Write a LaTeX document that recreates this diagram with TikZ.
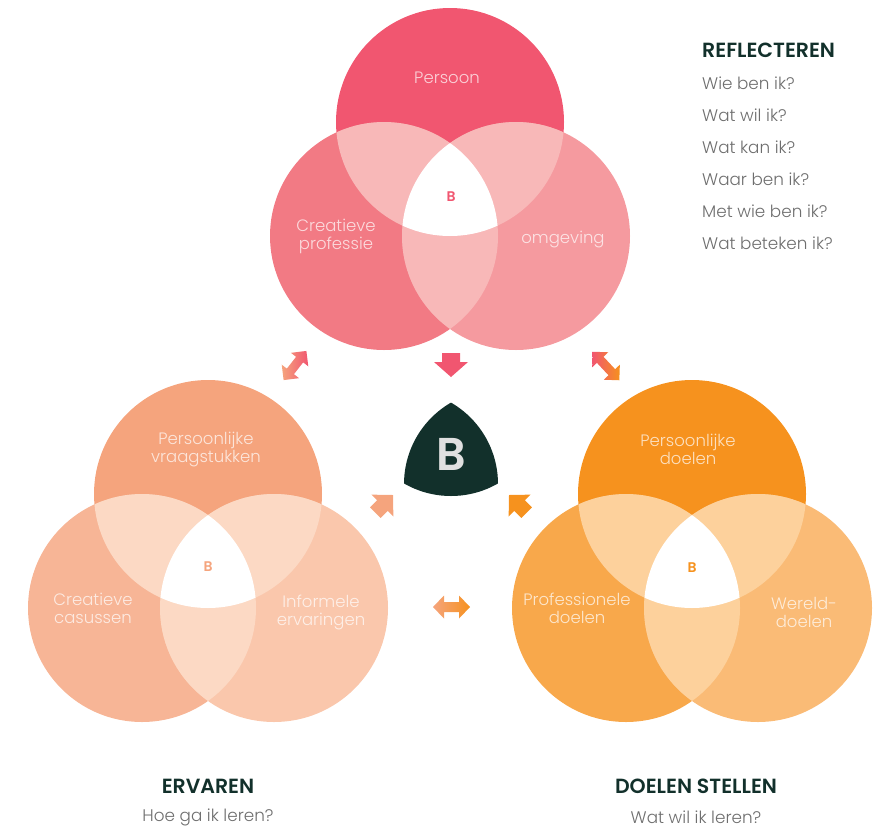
\documentclass[tikz,border=0pt]{standalone}
\usepackage{fontspec}
\setmainfont{Poppins}[UprightFont=* Light, BoldFont=* SemiBold]
\usetikzlibrary{calc}
\definecolor{pkT}{HTML}{F15670}
\definecolor{pkL}{HTML}{F27A84}
\definecolor{pkR}{HTML}{F59A9F}
\definecolor{pkO}{HTML}{F8B8B8}
\definecolor{smT}{HTML}{F5A47D}
\definecolor{smL}{HTML}{F7B596}
\definecolor{smR}{HTML}{FAC7AC}
\definecolor{smO}{HTML}{FCD9C4}
\definecolor{orT}{HTML}{F6921E}
\definecolor{orL}{HTML}{F8A84B}
\definecolor{orR}{HTML}{FABB76}
\definecolor{orO}{HTML}{FDD19C}
\definecolor{darkg}{HTML}{12302B}
\definecolor{greyt}{HTML}{6E6E6E}
\newcommand{\myVenn}[6]{%
  \coordinate (vT) at (#1,#2);
  \coordinate (vL) at ({#1-66},{#2+114});
  \coordinate (vR) at ({#1+66},{#2+114});
  \fill[#3] (vT) circle[radius=114pt];
  \fill[#4] (vL) circle[radius=114pt];
  \fill[#5] (vR) circle[radius=114pt];
  \begin{scope}\clip (vT) circle[radius=114pt];
    \fill[#6] (vL) circle[radius=114pt];
    \fill[#6] (vR) circle[radius=114pt];
  \end{scope}
  \begin{scope}\clip (vL) circle[radius=114pt];
    \fill[#6] (vR) circle[radius=114pt];
  \end{scope}
  \begin{scope}\clip (vT) circle[radius=114pt];
    \clip (vL) circle[radius=114pt];
    \fill[white] (vR) circle[radius=114pt];
  \end{scope}}
\newcommand{\dblArrow}[5]{% length, head length, head width, shaft width, shade opts
  \shade[#5] ({-#1/2},0) -- ({-#1/2+#2},{#3/2}) -- ({-#1/2+#2},{#4/2}) -- ({#1/2-#2},{#4/2})
    -- ({#1/2-#2},{#3/2}) -- ({#1/2},0) -- ({#1/2-#2},{-#3/2}) -- ({#1/2-#2},{-#4/2})
    -- ({-#1/2+#2},{-#4/2}) -- ({-#1/2+#2},{-#3/2}) -- cycle;}
\newcommand{\sglArrow}[5]{% length, head length, head width, shaft width, fill opts
  \fill[#5] (0,0) -- ({-#2},{#3/2}) -- ({-#2},{#4/2}) -- ({-#1},{#4/2}) -- ({-#1},{-#4/2})
    -- ({-#2},{-#4/2}) -- ({-#2},{-#3/2}) -- cycle;}
\tikzset{
  vtext/.style={font=\fontsize{16.5}{18}\selectfont, text=white, text opacity=0.72, align=center, inner sep=0pt},
  smallb/.style={font=\bfseries\fontsize{14}{15}\selectfont, inner sep=0pt},
  qtext/.style={font=\fontsize{16.8}{19}\selectfont, text=greyt, anchor=west, inner sep=0pt},
  htext/.style={font=\bfseries\fontsize{20.5}{22}\selectfont, text=darkg, inner sep=0pt},
  btext/.style={font=\fontsize{16.8}{19}\selectfont, text=greyt, inner sep=0pt}
}
\begin{document}
\begin{tikzpicture}[x=1pt,y=-1pt]
\useasboundingbox (0,0) rectangle (882,830);
% Venns
\myVenn{450}{122}{pkT}{pkL}{pkR}{pkO}
\myVenn{208}{494}{smT}{smL}{smR}{smO}
\myVenn{692}{494}{orT}{orL}{orR}{orO}
% Reuleaux B
\coordinate (ra) at (451,402);
\coordinate (rb) at (404,484);
\coordinate (rc) at (498,484);
\begin{scope}
  \clip (ra) circle[radius=94pt];
  \clip (rb) circle[radius=94pt];
  \fill[darkg] (rc) circle[radius=94pt];
\end{scope}
\node[font=\bfseries\fontsize{46}{48}\selectfont, text=black!12, inner sep=0pt] (bigb) at (451,454) {B};
% arrows
\begin{scope}[shift={(295,365.5)}, rotate=52]
  \dblArrow{37}{11}{22}{9}{left color=smT, right color=pkT}
\end{scope}
\begin{scope}[shift={(606,366)}, rotate=-47]
  \dblArrow{39}{11}{22}{9}{left color=pkT, right color=orT}
\end{scope}
\begin{scope}[shift={(451.5,607)}]
  \dblArrow{37}{11}{23}{10}{left color=smT, right color=orT}
\end{scope}
\begin{scope}[shift={(451,377)}, rotate=-90]
  \sglArrow{24}{15}{34}{18}{pkT}
\end{scope}
\begin{scope}[shift={(393,495)}, rotate=45]
  \sglArrow{25}{15}{31}{15}{smT}
\end{scope}
\begin{scope}[shift={(509,495)}, rotate=135]
  \sglArrow{25}{15}{31}{15}{orT}
\end{scope}
% venn texts
\node[vtext] (p1) at (447,78) {Persoon};
\node[vtext] (p2) at (336,236) {Creatieve\\professie};
\node[vtext] (p3) at (563,240) {omgeving};
\node[smallb, text=pkT] (pb) at (451,197) {B};
\node[vtext] (s1) at (206,449) {Persoonlijke\\vraagstukken};
\node[vtext] (s2) at (93,608) {Creatieve\\casussen};
\node[vtext] (s3) at (321,612) {Informele\\ervaringen};
\node[smallb, text=smT] (sb) at (208,567) {B};
\node[vtext] (o1) at (688,449) {Persoonlijke\\doelen};
\node[vtext] (o2) at (577,608) {Professionele\\doelen};
\node[vtext] (o3) at (804,612) {Wereld-\\doelen};
\node[smallb, text=orT] (ob) at (692,568) {B};
% right list
\node[htext, anchor=west] (refl) at (702,50) {REFLECTEREN};
\node[qtext] (q1) at (702,83) {Wie ben ik?};
\node[qtext] (q2) at (702,115) {Wat wil ik?};
\node[qtext] (q3) at (702,147) {Wat kan ik?};
\node[qtext] (q4) at (702,179) {Waar ben ik?};
\node[qtext] (q5) at (702,211) {Met wie ben ik?};
\node[qtext] (q6) at (702,243) {Wat beteken ik?};
% bottom labels
\node[htext] (erv) at (208,786) {ERVAREN};
\node[btext] (ervq) at (208,817) {Hoe ga ik leren?};
\node[htext] (doel) at (696,786) {DOELEN STELLEN};
\node[btext] (doelq) at (696,817) {Wat wil ik leren?};
\end{tikzpicture}
\end{document}
